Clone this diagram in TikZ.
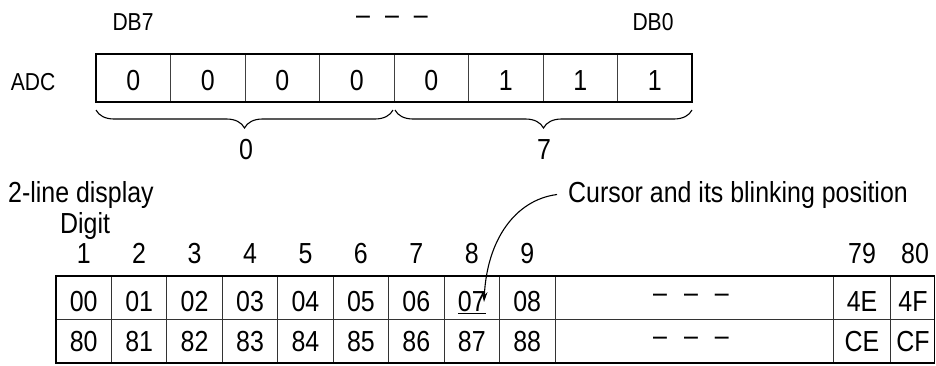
\documentclass[tikz,border=0pt]{standalone}
\usepackage{fontspec}
\setmainfont{Liberation Sans}[FakeStretch=0.86]
\usetikzlibrary{arrows.meta,decorations.pathreplacing}
\begin{document}
\begin{tikzpicture}[x=1pt,y=-1pt,
  big/.style={font=\fontsize{29}{34}\selectfont, inner sep=0pt, anchor=base},
  small/.style={font=\fontsize{24.5}{29}\selectfont, inner sep=0pt, anchor=base},
  acell/.style={draw=black!75, line width=0.9pt, minimum width=74.5pt, minimum height=48pt, inner sep=0pt, outer sep=0pt},
  dcell/.style={draw=black!80, line width=0.9pt, minimum height=43.5pt, inner sep=0pt, outer sep=0pt},
  frame/.style={draw=black, line width=1.4pt},
  bracedown/.style={decorate, decoration={brace, mirror, amplitude=18pt}, line width=1.1pt},
  arr/.style={line width=1.1pt, -{Stealth[length=10pt,width=6pt]}},
  dashes/.style={font=\fontsize{29}{34}\selectfont, inner sep=0pt}
]
\useasboundingbox (0,0) rectangle (936,365);

% ---- ADC register ----
\node[small] (db7) at (133,30.7) {DB7};
\node[dashes] (dtop) at (392,20) {–\hspace{15pt}–\hspace{15pt}–};
\node[small] (db0) at (653,30.7) {DB0};
\node[small] (adc) at (33,90.7) {ADC};
\foreach \v [count=\i] in {0,0,0,0,0,1,1,1} {
  \node[acell] (a\i) at ({96+74.5*(\i-0.5)},78) {};
  \node[big] (av\i) at ({96+74.5*(\i-0.5)},90.7) {\v};
}
\draw[frame] (a1.north west) rectangle (a8.south east);

\coordinate (bl1) at (96,110);
\coordinate (bl2) at (393,110);
\coordinate (br1) at (395,110);
\coordinate (br2) at (692,110);
\draw[bracedown] (bl1) -- (bl2);
\draw[bracedown] (br1) -- (br2);
\node[big] (hi) at (246,159) {0};
\node[big] (lo) at (544,159) {7};

% ---- 2-line display ----
\node[big, anchor=base west] (two) at (8,202) {2-line display};
\node[big, anchor=base west] (digit) at (60,233) {Digit};
\node[big, anchor=base west] (cur) at (568,202) {Cursor and its blinking position};

\foreach \t/\b/\h [count=\i] in {00/80/1,01/81/2,02/82/3,03/83/4,04/84/5,05/85/6,06/86/7,\underline{07}/87/8,08/88/9} {
  \node[dcell, minimum width=55.44pt] (c\i) at ({56+55.44*(\i-0.5)},297.75) {};
  \node[dcell, minimum width=55.44pt] (d\i) at ({56+55.44*(\i-0.5)},341.25) {};
  \node[big] (t\i) at ({56+55.44*(\i-0.5)},311.7) {\t};
  \node[big] (b\i) at ({56+55.44*(\i-0.5)},351.7) {\b};
  \node[big] (h\i) at ({56+55.44*(\i-0.5)},263) {\h};
}
% dashes column
\node[dcell, minimum width=278.3pt] (c10) at (694.15,297.75) {};
\node[dcell, minimum width=278.3pt] (d10) at (694.15,341.25) {};
\node[dashes] (t10) at (691,298) {–\hspace{17pt}–\hspace{17pt}–};
\node[dashes] (b10) at (691,341.5) {–\hspace{17pt}–\hspace{17pt}–};
% 79
\node[dcell, minimum width=57.4pt] (c11) at (862,297.75) {};
\node[dcell, minimum width=57.4pt] (d11) at (862,341.25) {};
\node[big] (t11) at (862,311.7) {4E};
\node[big] (b11) at (862,351.7) {CE};
\node[big] (h11) at (862,263) {79};
% 80
\node[dcell, minimum width=43.8pt] (c12) at (912.6,297.75) {};
\node[dcell, minimum width=43.8pt] (d12) at (912.6,341.25) {};
\node[big] (t12) at (913,311.7) {4F};
\node[big] (b12) at (913,351.7) {CF};
\node[big] (h12) at (915,263) {80};

\draw[frame] (c1.north west) rectangle (d12.south east);

% cursor arrow
\coordinate (tip) at (484,302);
\draw[arr] ([xshift=-11pt]cur.west) .. controls (515,200) and (487,240) .. (tip);
\end{tikzpicture}
\end{document}
